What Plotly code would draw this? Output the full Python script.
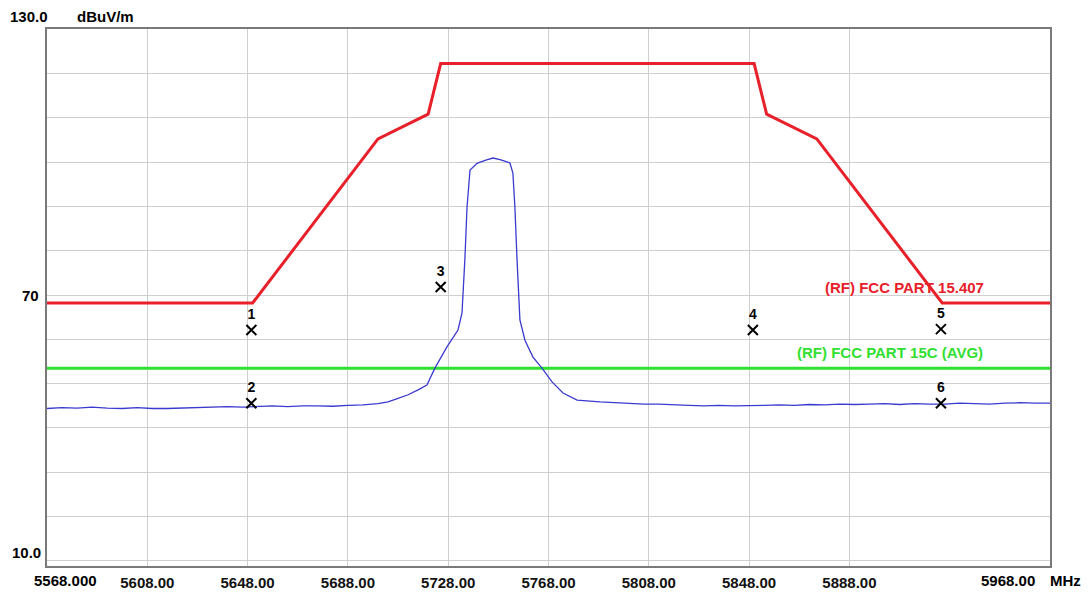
import plotly.graph_objects as go

# measured trace (MHz, dBuV/m)
freq = [5568, 5574, 5580, 5586, 5592, 5598, 5604, 5610, 5616, 5622, 5628, 5634,
        5640, 5646, 5652, 5658, 5664, 5670, 5676, 5682, 5688, 5694, 5700, 5704,
        5708, 5712, 5716, 5719.5, 5722.7, 5727.5, 5731.9, 5733.5, 5734.7, 5735.5,
        5736.7, 5739.5, 5743, 5745.9, 5749, 5752.6, 5753.8, 5754.6, 5755.4, 5756.6,
        5758.6, 5761.8, 5765.4, 5769.4, 5773.8, 5779.4, 5788.5, 5794, 5800, 5806,
        5812, 5818, 5824, 5830, 5836, 5842, 5848, 5854, 5860, 5866, 5872, 5878,
        5884, 5890, 5896, 5902, 5908, 5914, 5920, 5926, 5932, 5938, 5944, 5950,
        5956, 5962, 5968]
level = [44.4, 44.6, 44.5, 44.7, 44.5, 44.4, 44.6, 44.4, 44.4, 44.5, 44.6, 44.7,
         44.8, 44.7, 44.9, 45.0, 44.8, 45.0, 45.0, 44.9, 45.1, 45.2, 45.5, 45.9,
         46.7, 47.5, 48.6, 49.7, 53.5, 58.3, 62.1, 65.9, 78.6, 89.8,
         98.2, 99.7, 100.4, 100.9, 100.5, 99.8, 97.5, 89.8, 78.6, 64.4,
         59.8, 56.0, 53.5, 50.4, 47.9, 46.3, 45.9, 45.7, 45.6, 45.4,
         45.4, 45.2, 45.1, 45.0, 45.1, 45.0, 45.0, 45.1, 45.2, 45.1, 45.3, 45.2,
         45.4, 45.3, 45.4, 45.5, 45.3, 45.5, 45.4, 45.4, 45.6, 45.5, 45.4, 45.6,
         45.7, 45.6, 45.6]

# FCC 15.407 limit mask
lim_f = [5568, 5650, 5700, 5720, 5725, 5850, 5855, 5875, 5925, 5968]
lim_v = [68.2, 68.2, 105.2, 110.8, 122.2, 122.2, 110.8, 105.2, 68.2, 68.2]

# FCC 15C average limit
avg_f = [5568, 5968]
avg_v = [53.5, 53.5]

# markers
mk_no = ["1", "2", "3", "4", "5", "6"]
mk_f = [5649.5, 5649.5, 5725, 5849.5, 5924.5, 5924.5]
mk_v = [62.1, 45.6, 71.8, 62.1, 62.3, 45.6]

xticks = [5608, 5648, 5688, 5728, 5768, 5808, 5848, 5888]
xtick_text = ["5608.00", "5648.00", "5688.00", "5728.00", "5768.00",
              "5808.00", "5848.00", "5888.00"]

FONT = "Liberation Sans"

fig = go.Figure()
fig.add_trace(go.Scatter(x=lim_f, y=lim_v, mode="lines",
                         line=dict(color="#e8202a", width=3)))
fig.add_trace(go.Scatter(x=avg_f, y=avg_v, mode="lines",
                         line=dict(color="#30e030", width=3)))
fig.add_trace(go.Scatter(x=freq, y=level, mode="lines",
                         line=dict(color="#3a3ad0", width=1.3)))
fig.add_trace(go.Scatter(x=mk_f, y=mk_v, mode="markers+text", text=mk_no,
                         textposition="top center",
                         textfont=dict(family=FONT, size=14, color="black",
                                       weight="bold"),
                         marker=dict(symbol="x-thin-open", size=10, color="black",
                                     line=dict(color="black", width=2))))

# page has an 8px body margin, so the figure is 8px smaller than the window
fig.update_layout(
    width=1084, height=584,
    margin=dict(l=39, r=42, t=21, b=26, autoexpand=False),
    paper_bgcolor="white", plot_bgcolor="white",
    showlegend=False,
    font=dict(family=FONT, size=15, color="black"),
)
fig.update_xaxes(range=[5568, 5968], tickvals=xticks, ticktext=xtick_text,
                 tickfont=dict(family=FONT, size=15, color="#111", weight="bold"),
                 ticklabelstandoff=2,
                 showgrid=True, gridcolor="#cfcfcf", gridwidth=1,
                 showline=True, linecolor="#7a7a7a", linewidth=2, mirror=True,
                 zeroline=False)
fig.update_yaxes(range=[8.87, 130], tick0=10, dtick=10, showticklabels=False,
                 showgrid=True, gridcolor="#cfcfcf", gridwidth=1,
                 showline=True, linecolor="#7a7a7a", linewidth=2, mirror=True,
                 zeroline=False)

ann = [
    dict(text="<b>130.0</b>", xref="paper", yref="paper", x=-39/1003, y=1+13/537,
         xanchor="left", yanchor="middle", font=dict(size=15)),
    dict(text="<b>dBuV/m</b>", xref="paper", yref="paper", x=28/1003, y=1+13/537,
         xanchor="left", yanchor="middle", font=dict(size=15)),
    dict(text="<b>70</b>", xref="paper", yref="y", x=-6/1003, y=70,
         xanchor="right", yanchor="middle", font=dict(size=15)),
    dict(text="<b>10.0</b>", xref="paper", yref="paper", x=-4/1003, y=14/537,
         xanchor="right", yanchor="middle", font=dict(size=15)),
    dict(text="<b>5568.000</b>", xref="paper", yref="paper", x=-15/1003, y=-14/537,
         xanchor="left", yanchor="middle", font=dict(size=15)),
    dict(text="<b>5968.00</b>", xref="paper", yref="paper", x=1-13/1003, y=-14/537,
         xanchor="right", yanchor="middle", font=dict(size=15)),
    dict(text="<b>MHz</b>", xref="paper", yref="paper", x=1-2/1003, y=-14/537,
         xanchor="left", yanchor="middle", font=dict(size=15)),
    dict(text="<b>(RF) FCC PART 15.407</b>", xref="x", yref="y", x=5910, y=71.7,
         xanchor="center", yanchor="middle", font=dict(size=15, color="#e8202a")),
    dict(text="<b>(RF) FCC PART 15C (AVG)</b>", xref="x", yref="y", x=5904, y=57.1,
         xanchor="center", yanchor="middle", font=dict(size=15, color="#30e030")),
]
for a in ann:
    a["showarrow"] = False
    fig.add_annotation(**a)

fig.write_html("out.html")
